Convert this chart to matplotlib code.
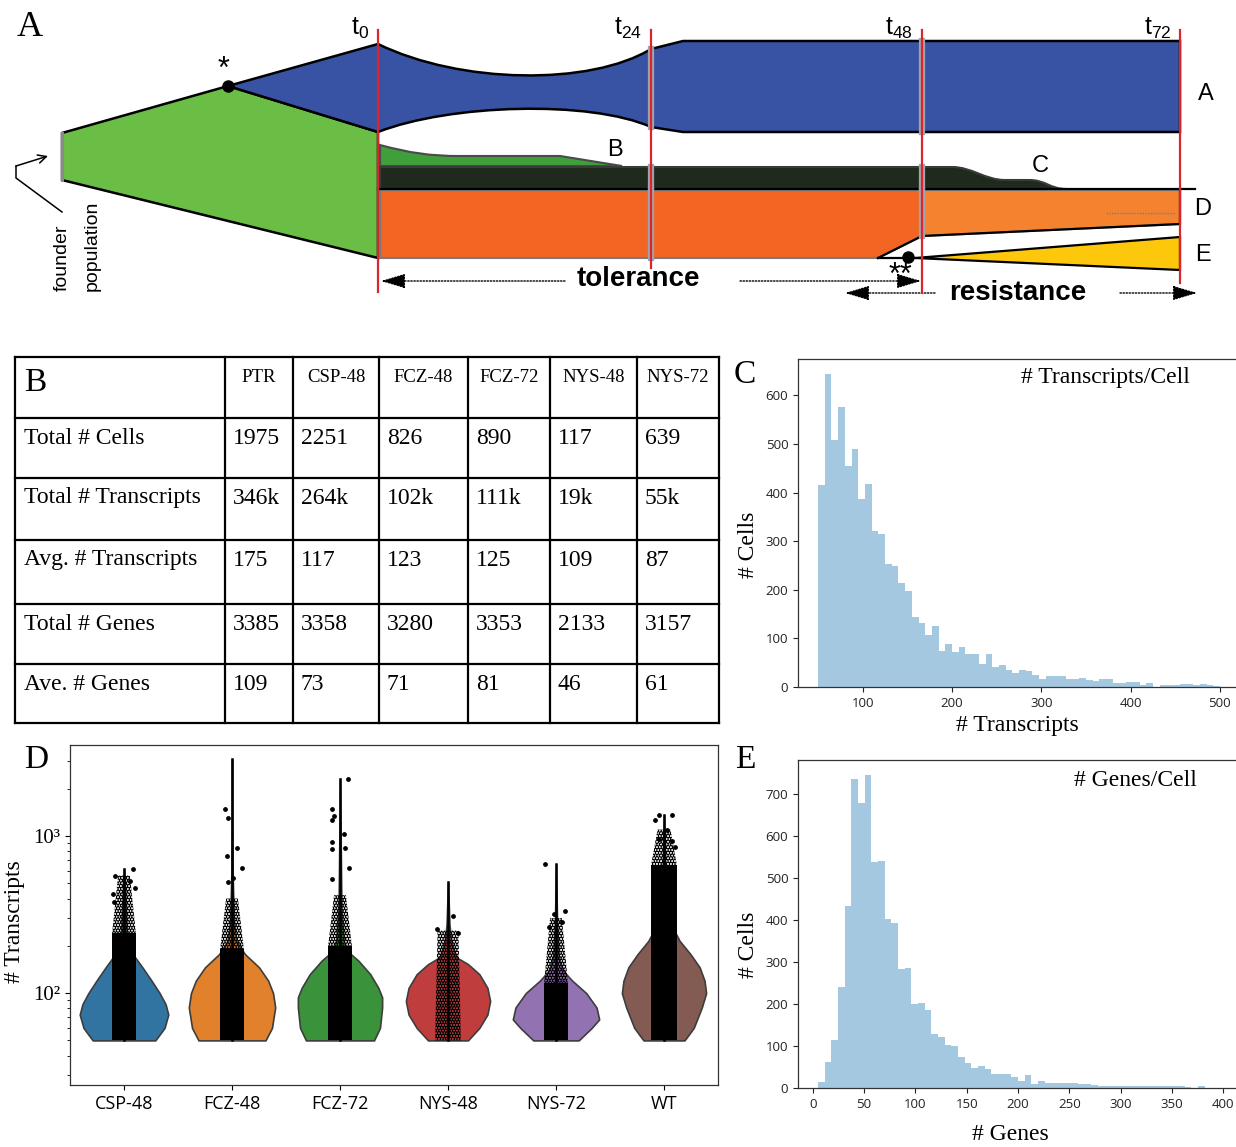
import matplotlib
matplotlib.use('Agg')
import matplotlib.pyplot as plt
import matplotlib.ticker as mticker
from matplotlib.path import Path
from matplotlib.patches import PathPatch, Polygon
import numpy as np

plt.rcParams['mathtext.default'] = 'regular'
plt.rcParams['hatch.linewidth'] = 2.0

SERIF = 'Liberation Serif'
SANS = 'Liberation Sans'
TICKFONT = 'Open Sans'

# ---------------- panel A (schematic, pixel coordinates) ----------------
time_x = [378, 651, 922, 1180]
time_bottom = [292, 268, 293, 283]
time_labels = ['t$_{0}$', 't$_{24}$', 't$_{48}$', 't$_{72}$']

founder_poly = [(62, 133), (228, 86), (378, 132), (378, 258), (62, 180)]
clone_a_verts = [(228, 86), (378, 44),
                 (460, 84), (590, 86), (651, 49),
                 (683, 41), (1180, 41), (1180, 132), (683, 132), (651, 127),
                 (590, 100), (450, 104), (378, 132),
                 (228, 86)]
clone_b_verts = [(380, 145), (410, 153), (430, 156), (460, 156),
                 (560, 156), (622, 166), (380, 166), (380, 145)]
clone_c_verts = [(380, 167), (952, 167),
                 (972, 167), (985, 180), (1005, 180),
                 (1029, 180), (1046, 180), (1050, 189), (1066, 189),
                 (380, 189), (380, 167)]
clone_d_left = [(380, 190), (922, 190), (922, 236), (878, 258), (380, 258)]
clone_d_right = [(922, 190), (1180, 190), (1180, 224), (922, 236)]
clone_e_poly = [(915, 258), (1180, 237), (1180, 270)]

# ---------------- panel B table ----------------
table_cols = ['PTR', 'CSP-48', 'FCZ-48', 'FCZ-72', 'NYS-48', 'NYS-72']
table_rows = ['Total # Cells', 'Total # Transcripts', 'Avg. # Transcripts',
              'Total # Genes', 'Ave. # Genes']
total_cells = ['1975', '2251', '826', '890', '117', '639']
total_transcripts = ['346k', '264k', '102k', '111k', '19k', '55k']
avg_transcripts = ['175', '117', '123', '125', '109', '87']
total_genes = ['3385', '3358', '3280', '3353', '2133', '3157']
ave_genes = ['109', '73', '71', '81', '46', '61']
col_x = [15, 225, 293, 379, 468, 550, 637, 719]
row_y = [357, 418, 478, 540, 604, 664, 723]

# ---------------- panel C histogram ----------------
transcript_range = (50, 500)
transcript_counts = [415, 645, 508, 576, 455, 489, 386, 417, 322, 315,
                     254, 250, 215, 197, 144, 132, 108, 126, 75, 89,
                     73, 82, 67, 67, 48, 67, 41, 45, 34, 29,
                     36, 32, 24, 17, 22, 22, 22, 17, 17, 19,
                     14, 12, 16, 17, 9, 9, 10, 10, 5, 8,
                     1, 5, 5, 5, 7, 7, 5, 7, 5, 3]

# ---------------- panel E histogram ----------------
gene_range = (5, 395)
gene_counts = [14, 63, 113, 239, 433, 734, 678, 745, 537, 540,
               401, 393, 282, 285, 199, 203, 185, 128, 121, 103,
               100, 74, 59, 48, 52, 44, 34, 34, 34, 26,
               17, 32, 10, 17, 13, 13, 13, 13, 13, 9,
               9, 6, 5, 5, 5, 5, 5, 5, 5, 5,
               5, 5, 4, 4, 4, 2, 0, 5, 0, 1]

# ---------------- panel D violins ----------------
violin_groups = ['CSP-48', 'FCZ-48', 'FCZ-72', 'NYS-48', 'NYS-72', 'WT']
violin_colors = ['#3274a1', '#e1812c', '#3a923a', '#c03d3e', '#9372b2', '#845b53']
violin_values = [
    [50, 60, 73, 85, 100, 120, 146, 170, 215, 450, 618],
    [50, 60, 81, 100, 120, 146, 177, 215, 289, 575, 3090],
    [50, 60, 81, 94, 108, 132, 161, 186, 215, 352, 2320],
    [50, 60, 73, 89, 108, 132, 153, 169, 215, 275, 510],
    [50, 60, 68, 81, 100, 120, 139, 169, 275, 660],
    [50, 60, 81, 100, 120, 146, 177, 215, 250, 320, 449, 1361],
]
violin_halfwidths = [
    [0.29, 0.375, 0.41, 0.385, 0.33, 0.255, 0.17, 0.10, 0.03, 0.01, 0.0],
    [0.31, 0.37, 0.40, 0.38, 0.335, 0.25, 0.12, 0.04, 0.017, 0.006, 0.0],
    [0.315, 0.37, 0.39, 0.39, 0.355, 0.28, 0.17, 0.065, 0.035, 0.013, 0.0],
    [0.185, 0.29, 0.365, 0.39, 0.365, 0.29, 0.185, 0.078, 0.03, 0.013, 0.0],
    [0.21, 0.33, 0.40, 0.375, 0.28, 0.15, 0.065, 0.026, 0.01, 0.0],
    [0.19, 0.275, 0.35, 0.39, 0.375, 0.33, 0.245, 0.145, 0.095, 0.043, 0.017, 0.0],
]
strip_solid_top = [240, 190, 200, None, 116, 650]
strip_sparse_top = [560, 400, 420, 250, 300, 1100]
strip_halfwidth = [0.11, 0.11, 0.11, 0.12, 0.11, 0.12]
strip_max = [618, 3090, 2320, 510, 660, 1361]
outlier_offsets = [
    [-0.08, 0.08, 0.06, 0.10, -0.09, -0.10],
    [-0.065, -0.04, 0.047, -0.047, 0.09, 0.013, -0.04],
    [-0.073, -0.06, -0.078, 0.034, -0.078, -0.078, 0.043, 0.086, -0.078, 0.073],
    [0.05, -0.10, 0.095],
    [-0.10, 0.086, -0.02, 0.056, -0.065],
    [-0.05, 0.078, -0.086, 0.026, -0.043, 0.10, 0.078],
]
outlier_values = [
    [560, 615, 520, 470, 380, 430],
    [1493, 1309, 840, 742, 625, 540, 509],
    [1493, 1340, 1260, 1035, 915, 830, 840, 627, 533, 2323],
    [309, 256, 241],
    [660, 332, 318, 283, 263],
    [1361, 1361, 1260, 1096, 960, 850, 930],
]

fig = plt.figure(figsize=(12.36, 11.47), dpi=100)
ax0 = fig.add_axes([0, 0, 1, 1])
ax0.set_xlim(0, 1236)
ax0.set_ylim(1147, 0)
ax0.axis('off')

# ---- panel A drawing
M, L, C4, CL = Path.MOVETO, Path.LINETO, Path.CURVE4, Path.CLOSEPOLY
ax0.add_patch(Polygon(founder_poly, closed=True, facecolor='#6abd45',
                      edgecolor='black', lw=1.8, zorder=2))
ax0.plot([62, 62], [133, 180], color='#8a8a8a', lw=2.2, zorder=3)
a_codes = [M, L, C4, C4, C4, L, L, L, L, L, C4, C4, C4, CL]
ax0.add_patch(PathPatch(Path(clone_a_verts, a_codes), facecolor='#3953a4',
                        edgecolor='black', lw=1.8, zorder=2))
b_codes = [M, C4, C4, C4, L, L, L, CL]
ax0.add_patch(PathPatch(Path(clone_b_verts, b_codes), facecolor='#3f9f3a',
                        edgecolor='#4a4a4a', lw=1.5, zorder=2))
c_codes = [M, L, C4, C4, C4, L, C4, C4, C4, L, CL]
ax0.add_patch(PathPatch(Path(clone_c_verts, c_codes), facecolor='#1e2b1c',
                        edgecolor='#3a3a3a', lw=1.5, zorder=2))
ax0.add_patch(Polygon(clone_d_left, closed=True, facecolor='#f26522',
                      edgecolor='#7a7a7a', lw=1.5, zorder=2))
ax0.add_patch(Polygon(clone_d_right, closed=True, facecolor='#f4822f',
                      edgecolor='#7a7a7a', lw=1.5, zorder=2))
ax0.add_patch(Polygon(clone_e_poly, closed=True, facecolor='#fdc70c',
                      edgecolor='black', lw=1.6, zorder=2))
ax0.plot([378, 1195], [189, 189], color='black', lw=1.6, zorder=3)
ax0.plot([878, 922, 1180, 1180], [258, 236, 224, 190], color='black', lw=1.6, zorder=3)
ax0.plot([878, 915], [258, 258], color='black', lw=1.6, zorder=3)
ax0.plot([1106, 1175], [213, 213], color='#6d7fa8', lw=1.0, ls=(0, (1, 1)), zorder=3)

# gray separators and red time lines
for x, spans in zip([651, 922], [[(49, 127), (167, 189), (190, 258)],
                                 [(41, 132), (167, 189), (190, 236)]]):
    for y1, y2 in spans:
        ax0.plot([x, x], [y1, y2], color='#a3a3ab', lw=4.5, zorder=3)
for x, yb, lab in zip(time_x, time_bottom, time_labels):
    ax0.plot([x, x], [30, yb], color='#d9262e', lw=1.6, zorder=4)
    ax0.text(x - 9, 35, lab, fontsize=18, family=SANS, ha='right', va='baseline')

ax0.plot([228], [86], 'o', color='black', ms=8, zorder=5)
ax0.plot([908], [257], 'o', color='black', ms=8, zorder=5)
ax0.text(224, 70, '*', fontsize=22, family=SANS, ha='center', va='center')
ax0.text(900, 276, '**', fontsize=22, family=SANS, ha='center', va='center')

for lab, x, y in [('A', 1206, 94), ('B', 615, 150), ('C', 1040, 166),
                  ('D', 1203, 209), ('E', 1203, 255)]:
    ax0.text(x, y, lab, fontsize=17, family=SANS, ha='center', va='center')

ax0.text(638, 279, 'tolerance', fontsize=20, family=SANS, fontweight='bold',
         ha='center', va='center')
ax0.text(1018, 293, 'resistance', fontsize=20, family=SANS, fontweight='bold',
         ha='center', va='center')
arrow_kw = dict(arrowstyle='-|>,head_length=1.5,head_width=0.45', color='black',
                lw=1.0, linestyle=(0, (1, 1.2)), shrinkA=0, shrinkB=0)
for start, end in [((565, 281), (381, 281)), ((740, 281), (921, 281)),
                   ((935, 293), (845, 293)), ((1120, 293), (1197, 293))]:
    ax0.annotate('', xy=end, xytext=start, arrowprops=arrow_kw)

ax0.plot([62, 16, 16], [212, 178, 166], color='black', lw=1.1)
ax0.annotate('', xy=(48, 156), xytext=(16, 166),
             arrowprops=dict(arrowstyle='->,head_length=0.6,head_width=0.3',
                             color='black', lw=1.1, shrinkA=0, shrinkB=0))
ax0.text(62, 291, 'founder', fontsize=14, family=SANS, rotation=90,
         ha='center', va='bottom')
ax0.text(92, 291, 'population', fontsize=14, family=SANS, rotation=90,
         ha='center', va='bottom')
ax0.text(30, 28, 'A', fontsize=26, family=SERIF, ha='center', va='center')

# ---- panel B table
for x in col_x:
    ax0.plot([x, x], [row_y[0], row_y[-1]], color='black', lw=1.6)
for y in row_y:
    ax0.plot([col_x[0], col_x[-1]], [y, y], color='black', lw=1.6)
ax0.text(35, 383, 'B', fontsize=24, family=SERIF, ha='center', va='center')
for j, name in enumerate(table_cols):
    ax0.text((col_x[j + 1] + col_x[j + 2]) / 2, 377, name, fontsize=13.5,
             family=SERIF, ha='center', va='center')
table_values = [total_cells, total_transcripts, avg_transcripts, total_genes, ave_genes]
for i, (rname, vals) in enumerate(zip(table_rows, table_values)):
    yc = row_y[i + 1] + 20
    ax0.text(24, yc, rname, fontsize=17, family=SERIF, ha='left', va='center')
    for j, v in enumerate(vals):
        ax0.text(col_x[j + 1] + 8, yc, v, fontsize=17, family=SERIF,
                 ha='left', va='center')

# ---- panel labels and texts for C, D, E
ax0.text(745, 375, 'C', fontsize=24, family=SERIF, ha='center', va='center')
ax0.text(36, 760, 'D', fontsize=24, family=SERIF, ha='center', va='center')
ax0.text(745, 760, 'E', fontsize=24, family=SERIF, ha='center', va='center')
ax0.text(1105, 377, '# Transcripts/Cell', fontsize=17, family=SERIF, ha='center', va='center')
ax0.text(1135, 780, '# Genes/Cell', fontsize=17, family=SERIF, ha='center', va='center')
ax0.text(748, 545, '# Cells', fontsize=17, family=SERIF, rotation=90, ha='center', va='center')
ax0.text(748, 945, '# Cells', fontsize=17, family=SERIF, rotation=90, ha='center', va='center')
ax0.text(1017, 726, '# Transcripts', fontsize=17, family=SERIF, ha='center', va='center')
ax0.text(1010, 1135, '# Genes', fontsize=17, family=SERIF, ha='center', va='center')
ax0.text(15, 922, '# Transcripts', fontsize=17, family=SERIF, rotation=90, ha='center', va='center')


def px_axes(left, top, right, bottom):
    return fig.add_axes([left / 1236, 1 - bottom / 1147,
                         (right - left) / 1236, (bottom - top) / 1147])


def style_hist(ax):
    ax.set_facecolor('none')
    for s in ['left', 'bottom', 'top']:
        ax.spines[s].set_color('#333333')
        ax.spines[s].set_linewidth(0.9)
    ax.spines['right'].set_visible(False)
    ax.tick_params(labelsize=9.5, colors='#222222', width=0.8)
    for t in ax.get_xticklabels() + ax.get_yticklabels():
        t.set_family(TICKFONT)


# ---- panel C
axc = px_axes(798, 359, 1240, 687)
t_edges = np.linspace(transcript_range[0], transcript_range[1], len(transcript_counts) + 1)
axc.hist(t_edges[:-1], bins=t_edges, weights=transcript_counts, color='C0', alpha=0.4)
axc.set_xlim(27.5, 522.5)
axc.set_ylim(0, 675)
axc.set_xticks([100, 200, 300, 400, 500])
axc.set_yticks(range(0, 700, 100))
style_hist(axc)

# ---- panel E
axe = px_axes(798, 760, 1238, 1088)
g_edges = np.linspace(gene_range[0], gene_range[1], len(gene_counts) + 1)
axe.hist(g_edges[:-1], bins=g_edges, weights=gene_counts, color='C0', alpha=0.4)
axe.set_xlim(-14.5, 414.5)
axe.set_ylim(0, 780)
axe.set_xticks(range(0, 401, 50))
axe.set_yticks(range(0, 800, 100))
style_hist(axe)

# ---- panel D
axd = px_axes(70, 745, 718, 1085)
axd.set_facecolor('none')
axd.set_yscale('log')
for i in range(len(violin_groups)):
    vals = np.array(violin_values[i])
    hw = np.array(violin_halfwidths[i])
    axd.fill_betweenx(vals, i - hw, i + hw, facecolor=violin_colors[i],
                      edgecolor='#3d3d3d', lw=1.2, zorder=1)
    sw = strip_halfwidth[i]
    base = 50
    if strip_solid_top[i] is not None:
        axd.fill_betweenx([50, strip_solid_top[i]], i - sw, i + sw,
                          color='black', lw=0, zorder=2)
        base = strip_solid_top[i]
    top_w = sw * 0.5 if strip_solid_top[i] is not None else sw * 0.8
    axd.fill_betweenx([base, strip_sparse_top[i]], [i - sw, i - top_w],
                      [i + sw, i + top_w], facecolor='none', edgecolor='black',
                      hatch='......', lw=0, zorder=2)
    axd.plot([i, i], [50, strip_max[i]], color='black', lw=1.8, zorder=3)
    axd.scatter(i + np.array(outlier_offsets[i]), outlier_values[i],
                s=6, color='black', zorder=3)
axd.set_xlim(-0.5, 5.5)
axd.set_ylim(26, 3800)
axd.set_xticks(range(len(violin_groups)))
axd.set_xticklabels(violin_groups, family=TICKFONT, fontsize=13)
axd.set_yticks([100, 1000])
axd.set_yticklabels(['10²', '10³'], family=SERIF, fontsize=15)
axd.yaxis.set_minor_formatter(mticker.NullFormatter())
for s in axd.spines.values():
    s.set_color('#333333')
    s.set_linewidth(0.9)

fig.savefig('out.png', dpi=100)
